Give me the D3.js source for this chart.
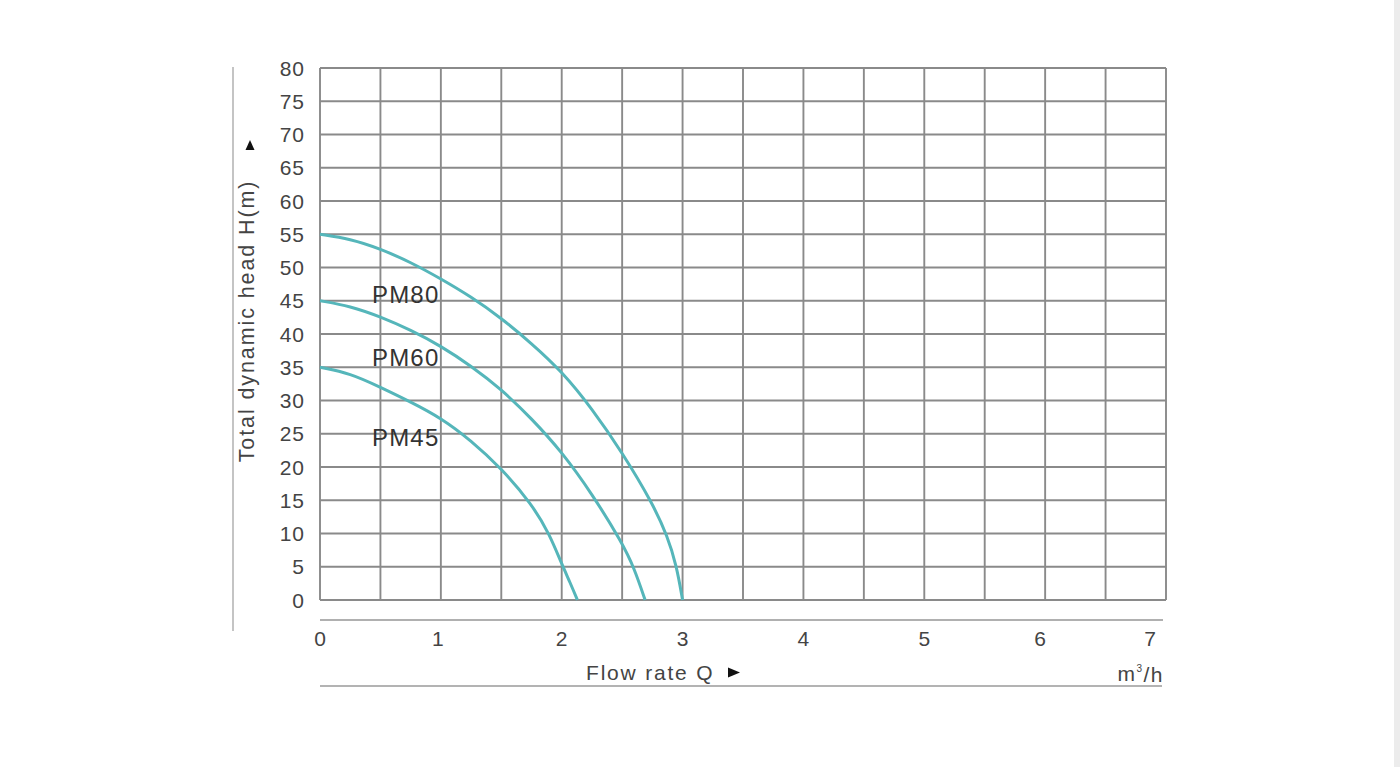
<!DOCTYPE html>
<html>
<head>
<meta charset="utf-8">
<script src="https://cdn.jsdelivr.net/npm/d3@7"></script>
<style>
html,body{margin:0;padding:0;background:#fff;}
svg{display:block;}
text{font-family:"Liberation Sans",Arial,Helvetica,sans-serif;}
</style>
</head>
<body>
<svg id="chart" width="1400" height="767"></svg>
<script>
// ---- data ----
const seriesNames = ["PM80", "PM60", "PM45"];
const pm80Q = [0, 0.25, 0.5, 0.75, 1, 1.25, 1.5, 1.75, 2, 2.25, 2.5, 2.75, 2.875, 2.95, 3.0];
const pm80H = [55, 54.3, 52.8, 50.8, 48.3, 45.6, 42.4, 38.6, 34.4, 28.8, 22.2, 14.6, 9.6, 5.2, 0];
const pm60Q = [0, 0.25, 0.5, 0.75, 1, 1.25, 1.5, 1.75, 2, 2.25, 2.5, 2.6, 2.69];
const pm60H = [45, 44.2, 42.6, 40.6, 38.2, 35.2, 31.7, 27.3, 22.3, 16.0, 8.6, 4.8, 0];
const pm45Q = [0, 0.25, 0.5, 0.75, 1, 1.25, 1.5, 1.75, 1.9, 2.0, 2.07, 2.13];
const pm45H = [35, 34.1, 32.0, 29.8, 27.4, 24.0, 19.8, 14.5, 9.9, 5.4, 2.6, 0];
const labelPos = [[0.43, 46], [0.43, 36.5], [0.43, 24.5]]; // label anchor (Q,H) per series
const xTicks = [0, 1, 2, 3, 4, 5, 6, 7];
const yTicks = [0, 5, 10, 15, 20, 25, 30, 35, 40, 45, 50, 55, 60, 65, 70, 75, 80];
const xGrid = [0, 0.5, 1, 1.5, 2, 2.5, 3, 3.5, 4, 4.5, 5, 5.5, 6, 6.5, 7];

const svg = d3.select("#chart");
const x = d3.scaleLinear().domain([0, 7]).range([320, 1166]);
const y = d3.scaleLinear().domain([0, 80]).range([600, 68]);

const gridColor = "#8a8a8a";
const textColor = "#444";
const curveColor = "#55b6ba";

// right edge bar
svg.append("rect").attr("x", 1394).attr("y", 0).attr("width", 6).attr("height", 767).attr("fill", "#ececec");

// grid
svg.append("g").selectAll("line").data(xGrid).join("line")
  .attr("x1", d => x(d)).attr("x2", d => x(d))
  .attr("y1", y(0)).attr("y2", y(80))
  .attr("stroke", gridColor).attr("stroke-width", 1.9);
svg.append("g").selectAll("line").data(yTicks).join("line")
  .attr("x1", x(0)).attr("x2", x(7))
  .attr("y1", d => y(d)).attr("y2", d => y(d))
  .attr("stroke", gridColor).attr("stroke-width", 1.9);

// y tick labels
svg.append("g").selectAll("text").data(yTicks).join("text")
  .attr("x", 305).attr("y", d => y(d))
  .attr("dy", "0.36em").attr("text-anchor", "end")
  .attr("font-size", 21).attr("letter-spacing", 1).attr("fill", textColor)
  .text(d => d);

// left vertical rule
svg.append("line").attr("x1", 233).attr("x2", 233).attr("y1", 67).attr("y2", 631)
  .attr("stroke", "#c4c4c4").attr("stroke-width", 2);

// y axis title
svg.append("text")
  .attr("transform", "translate(254,321) rotate(-90)")
  .attr("text-anchor", "middle").attr("font-size", 21.5).attr("letter-spacing", 1.9)
  .attr("fill", textColor)
  .text("Total dynamic head H(m)");
// up arrow (triangle)
svg.append("path")
  .attr("d", "M250,140 L254.5,150 L245.5,150 Z")
  .attr("fill", "#111");

// x separator
svg.append("line").attr("x1", x(0)).attr("x2", 1163).attr("y1", 620).attr("y2", 620)
  .attr("stroke", "#b0b0b0").attr("stroke-width", 2);

// x tick labels
svg.append("g").selectAll("text").data(xTicks).join("text")
  .attr("x", d => x(d) - (d === 7 ? 16 : d === 6 ? 5 : d === 1 ? 3 : 0)).attr("y", 638)
  .attr("dy", "0.36em").attr("text-anchor", "middle")
  .attr("font-size", 21).attr("fill", textColor)
  .text(d => d);

// x title
svg.append("text").attr("x", 586).attr("y", 672).attr("dy", "0.36em")
  .attr("font-size", 21).attr("letter-spacing", 1.8).attr("fill", textColor).text("Flow rate Q");
// right arrow (triangle)
svg.append("path")
  .attr("d", "M728,667.5 L740,672.5 L728,677.5 Z")
  .attr("fill", "#111");
const unit = svg.append("text").attr("x", 1164).attr("y", 673).attr("dy", "0.36em")
  .attr("text-anchor", "end").attr("font-size", 21).attr("letter-spacing", 1.5).attr("fill", textColor);
unit.append("tspan").text("m");
unit.append("tspan").attr("font-size", 10).attr("dy", "-0.9em").text("3");
unit.append("tspan").attr("dy", "0.5em").text("/h");

// bottom rule
svg.append("line").attr("x1", x(0)).attr("x2", 1162).attr("y1", 686).attr("y2", 686)
  .attr("stroke", "#9a9a9a").attr("stroke-width", 1.5);

// curves
const series = [
  {name: seriesNames[0], q: pm80Q, h: pm80H},
  {name: seriesNames[1], q: pm60Q, h: pm60H},
  {name: seriesNames[2], q: pm45Q, h: pm45H}
];
const line = d3.line().x(d => x(d[0])).y(d => y(d[1])).curve(d3.curveBasis);
svg.append("g").selectAll("path").data(series).join("path")
  .attr("d", s => line(s.q.map((q, i) => [q, s.h[i]])))
  .attr("fill", "none").attr("stroke", curveColor).attr("stroke-width", 3);

// curve labels
svg.append("g").selectAll("text").data(series).join("text")
  .attr("x", (s, i) => x(labelPos[i][0]))
  .attr("y", (s, i) => y(labelPos[i][1]))
  .attr("dy", "0.36em").attr("font-size", 24).attr("letter-spacing", 1.2).attr("fill", "#333")
  .text(s => s.name);
</script>
</body>
</html>
